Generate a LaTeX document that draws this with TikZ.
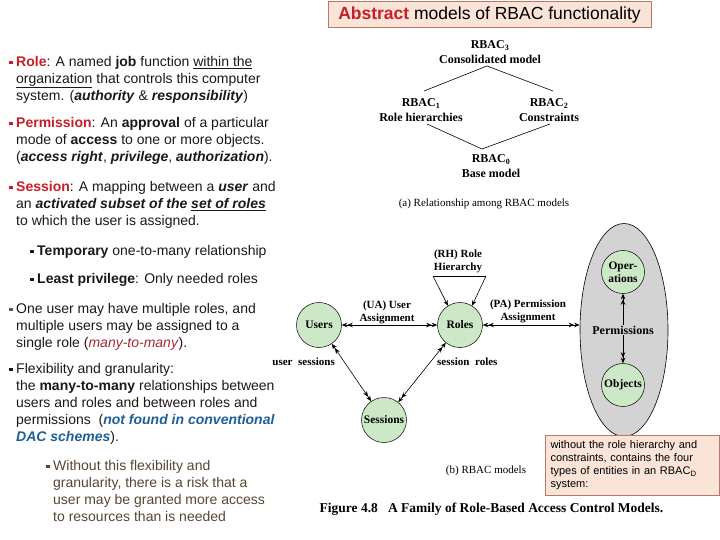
\documentclass[tikz,border=0pt]{standalone}
\usepackage{fontspec}
\setmainfont{Liberation Sans}
\newfontfamily\tms{Liberation Serif}
\usetikzlibrary{arrows.meta,shapes.geometric}
\definecolor{rred}{RGB}{200,30,40}
\definecolor{mmred}{RGB}{165,40,55}
\definecolor{bblue}{RGB}{30,95,150}
\definecolor{brn}{RGB}{85,70,50}
\definecolor{bgray}{RGB}{90,90,90}
\definecolor{pinkfill}{RGB}{250,228,216}
\definecolor{pinkdraw}{RGB}{185,120,100}
\definecolor{cgreen}{RGB}{204,232,198}
\definecolor{egray}{RGB}{211,211,211}
\definecolor{txt}{RGB}{25,25,25}
\newcommand\bul[1]{\llap{\textcolor{#1}{\rule[2pt]{3.5pt}{3.5pt}}\hspace{3.5pt}}}
\newcommand\bi[1]{\textbf{\textit{#1}}}
\begin{document}
\begin{tikzpicture}[x=1pt,y=-1pt,
  >={Stealth[length=5.5pt,width=4.5pt]},
  para/.style={anchor=north west, inner sep=0pt, align=left, text=txt, font=\fontsize{14}{17}\selectfont},
  titlebox/.style={draw=pinkdraw, fill=pinkfill, line width=1pt, inner sep=0pt, font=\fontsize{17.5}{20}\selectfont},
  notebox/.style={draw=pinkdraw, fill=pinkfill, line width=1pt, anchor=north west, align=left, text width=164pt, inner xsep=5pt, inner ysep=4pt, font=\fontsize{11}{13}\selectfont},
  mlab/.style={inner sep=0pt, align=center, font=\tms\bfseries\fontsize{12}{15}\selectfont},
  capt/.style={inner sep=0pt, font=\tms\fontsize{11}{13}\selectfont},
  circ/.style={circle, draw, line width=0.5pt, fill=cgreen, minimum size=45pt, inner sep=0pt, align=center, font=\tms\bfseries\fontsize{11.5}{12.5}\selectfont},
  lab/.style={inner sep=0pt, align=center, font=\tms\bfseries\fontsize{11}{13}\selectfont},
  arr/.style={<<->>, line width=0.6pt},
  ln/.style={line width=0.6pt}
]
\useasboundingbox (0,0) rectangle (720,540);

% title
\node[titlebox, minimum width=323pt, minimum height=26pt] (title) at (489.5,15)
  {\textbf{\textcolor{rred}{Abstract}} models of RBAC functionality};

% left text
\node[para] (p1) at (16,54.1) {\strut\bul{rred}\textcolor{rred}{\textbf{Role}}: A named \textbf{job} function \underline{within the}\\
  \underline{organization} that controls this computer\\
  system. (\bi{authority} \& \bi{responsibility})};
\node[para] (p2) at (16,115.1) {\strut\bul{rred}\textcolor{rred}{\textbf{Permission}}: An \textbf{approval} of a particular\\
  mode of \textbf{access} to one or more objects.\\
  (\bi{access right}, \bi{privilege}, \bi{authorization}).};
\node[para] (p3) at (16,179.1) {\strut\bul{rred}\textcolor{rred}{\textbf{Session}}: A mapping between a \bi{user} and\\
  an \bi{activated subset of the} \bi{\underline{set of roles}}\\
  to which the user is assigned.};
\node[para] (p4) at (37,243.1) {\strut\bul{txt}\textbf{Temporary} one-to-many relationship};
\node[para] (p5) at (37,271.1) {\strut\bul{txt}\textbf{Least privilege}: Only needed roles};
\node[para] (p6) at (16,301.1) {\strut\bul{bgray}One user may have multiple roles, and\\
  multiple users may be assigned to a\\
  single role (\textcolor{mmred}{\textit{many-to-many}}).};
\node[para] (p7) at (16,361.1) {\strut\bul{txt}Flexibility and granularity:\\
  the \textbf{many-to-many} relationships between\\
  users and roles and between roles and\\
  permissions\ \ (\textcolor{bblue}{\bi{not found in conventional}}\\
  \textcolor{bblue}{\bi{DAC schemes}}).};
\node[para, text=brn] (p8) at (53,458.1) {\strut\bul{brn}Without this flexibility and\\
  granularity, there is a risk that a\\
  user may be granted more access\\
  to resources than is needed};

% (a) relationship among RBAC models
\node[mlab] (r3) at (490,52) {RBAC\textsubscript{3}\\Consolidated model};
\node[mlab] (r1) at (421,110) {RBAC\textsubscript{1}\\Role hierarchies};
\node[mlab] (r2) at (549,110) {RBAC\textsubscript{2}\\Constraints};
\node[mlab] (r0) at (491,166) {RBAC\textsubscript{0}\\Base model};
\node[capt] (capa) at (484,204) {(a) Relationship among RBAC models};
\coordinate (a1) at (424,91);
\coordinate (a2) at (487,66);
\coordinate (a3) at (553,91);
\coordinate (a4) at (427,124);
\coordinate (a5) at (482,149);
\coordinate (a6) at (550,124);
\draw[ln] (a1) -- (a2) -- (a3);
\draw[ln] (a4) -- (a5) -- (a6);

% (b) RBAC models
\node[ellipse, draw, line width=0.6pt, fill=egray, minimum width=88pt, minimum height=213pt, inner sep=0pt] (perm) at (624,330) {};
\node[circ] (users) at (319,325) {Users};
\node[circ] (roles) at (460,325) {Roles};
\node[circ] (sessions) at (384,420) {Sessions};
\node[circ, minimum size=43pt] (ops) at (623,272) {Oper-\\ations};
\node[circ, minimum size=43pt] (objs) at (623,385) {Objects};

\draw[arr] (users) -- (roles);
\draw[arr] (roles.east) -- (roles.east -| perm.west);
\draw[arr] (users) -- (sessions);
\draw[arr] (sessions) -- (roles);
\draw[arr] (ops) -- (objs);
\node[lab, fill=egray, inner sep=1pt, font=\tms\bfseries\fontsize{12}{14}\selectfont] (permlab) at (623,330) {Permissions};

\coordinate (rhL) at (433,276);
\coordinate (rhR) at (486,276);
\draw[ln] (rhL) -- (rhR);
\draw[ln,->] (rhL) -- (roles.122);
\draw[ln,->] (rhR) -- (roles.58);

\node[lab] (rh) at (458,261) {(RH) Role\\Hierarchy};
\node[lab] (ua) at (387,312) {(UA) User\\Assignment};
\node[lab] (pa) at (528,311.5) {(PA) Permission\\Assignment};
\node[lab, anchor=east] (us) at (335,362) {user\ \ sessions};
\node[lab, anchor=west] (sr) at (437,362) {session\ \ roles};
\node[capt] (capb) at (486,471) {(b) RBAC models};

% note
\node[notebox, minimum width=174pt, minimum height=60pt] (note) at (545,435)
  {\strut without the role hierarchy and\\
   constraints, contains the four\\
   types of entities in an RBAC\textsubscript{D}\\
   system:\strut};

% figure caption
\node[inner sep=0pt, font=\tms\bfseries\fontsize{13.5}{16}\selectfont] (fig) at (491.5,509)
  {Figure 4.8\ \ \ A Family of Role-Based Access Control Models.};
\end{tikzpicture}
\end{document}
